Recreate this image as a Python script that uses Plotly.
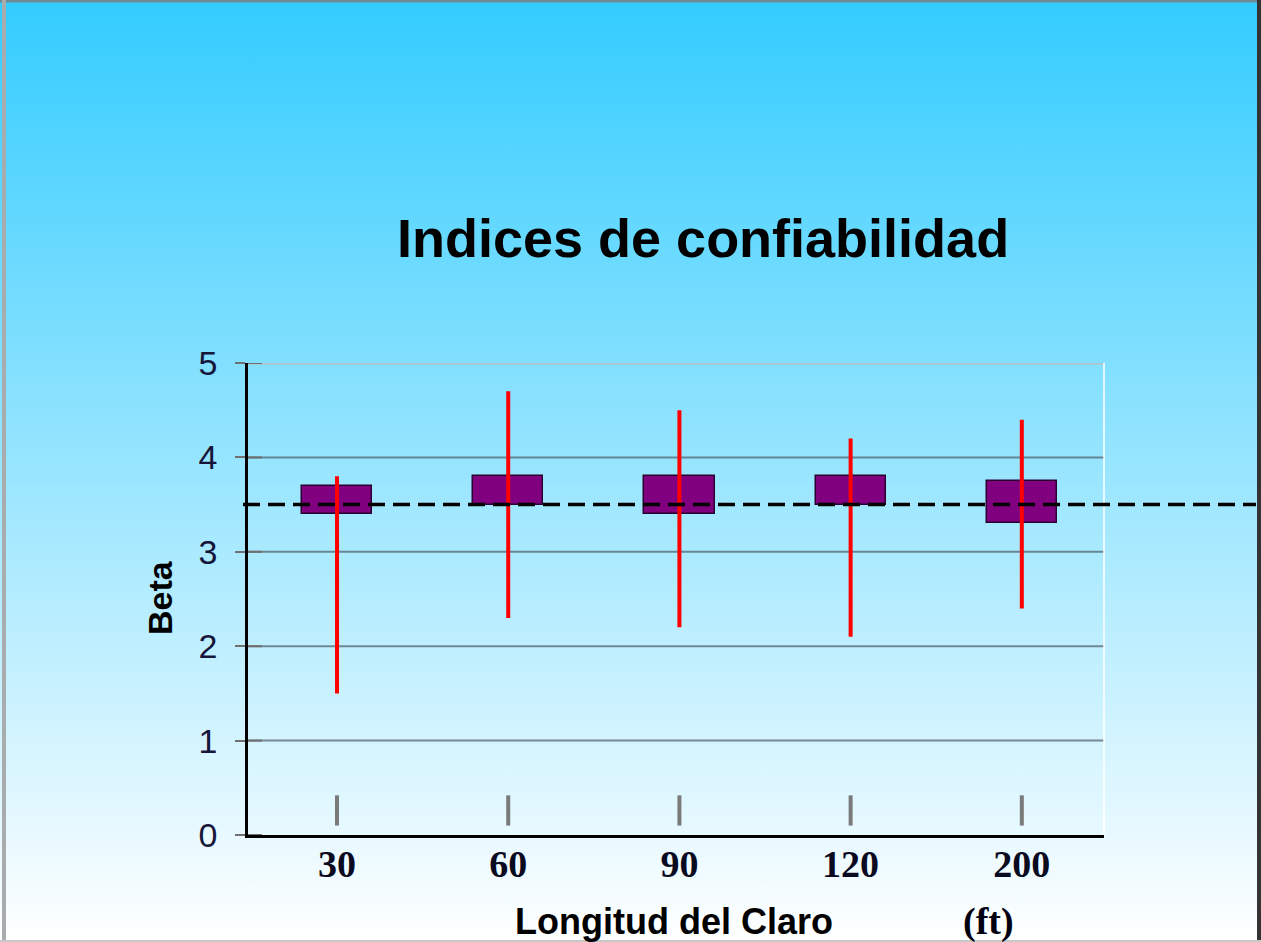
import base64
import plotly.graph_objects as go

# Reliability index (beta) by span length
categories = ["30", "60", "90", "120", "200"]
beta_min = [1.5, 2.3, 2.2, 2.1, 2.4]
beta_max = [3.8, 4.7, 4.5, 4.2, 4.4]
box_low = [3.4, 3.5, 3.4, 3.5, 3.3]
box_high = [3.7, 3.8, 3.8, 3.8, 3.75]
beta_target = 3.5
y_ticks = [0, 1, 2, 3, 4, 5]

W, H = 1261, 942
L, R, T, B = 248, 157, 363, 107
PW, PH = W - L - R, H - T - B


def px(xp):
    return (xp - L) / PW


def py(yp):
    return (H - B - yp) / PH


fig = go.Figure()

# whiskers (min-max range)
wx, wy = [], []
for c, lo, hi in zip(categories, beta_min, beta_max):
    wx += [c, c, None]
    wy += [lo, hi, None]
fig.add_trace(go.Scatter(x=wx, y=wy, mode="lines",
                         line=dict(color="#FF0000", width=4),
                         hoverinfo="skip", showlegend=False))

# boxes
fig.add_trace(go.Bar(x=categories,
                     y=[h - l for l, h in zip(box_low, box_high)],
                     base=box_low, width=0.41,
                     marker=dict(color="#800080",
                                 line=dict(color="#2a0030", width=1.5)),
                     showlegend=False))

# small category markers above the axis
tx, ty = [], []
for c in categories:
    tx += [c, c, None]
    ty += [0.1, 0.42, None]
fig.add_trace(go.Scatter(x=tx, y=ty, mode="lines",
                         line=dict(color="#7a7a7a", width=4),
                         hoverinfo="skip", showlegend=False))

shapes = []
# horizontal gridlines
for v in y_ticks[1:]:
    top = v == y_ticks[-1]
    shapes.append(dict(type="line", xref="paper", yref="y", x0=0, x1=1,
                       y0=v, y1=v, layer="below",
                       line=dict(color="#B8BEC4" if top
                                 else "rgba(70,80,90,0.65)",
                                 width=3 if top else 2)))
# inner part of the y ticks
for v in y_ticks:
    shapes.append(dict(type="line", xref="paper", yref="y", x0=0,
                       x1=px(262), y0=v, y1=v,
                       line=dict(color="#707070", width=2)))
# right edge of plot area
shapes.append(dict(type="line", xref="paper", yref="paper", x0=1, x1=1,
                   y0=0, y1=1, line=dict(color="rgba(255,255,255,0.75)",
                                         width=2)))
# target beta line
shapes.append(dict(type="line", xref="paper", yref="y", x0=px(243),
                   x1=px(1256), y0=beta_target, y1=beta_target,
                   line=dict(color="#000000", width=3.5, dash="17px,8px")))
# slide frame
shapes += [
    dict(type="line", xref="paper", yref="paper", x0=px(0), x1=px(W),
         y0=py(1), y1=py(1), line=dict(color="#6F8A94", width=3)),
    dict(type="line", xref="paper", yref="paper", x0=px(4), x1=px(4),
         y0=py(0), y1=py(H), line=dict(color="#A8ACAE", width=4)),
    dict(type="line", xref="paper", yref="paper", x0=px(1259), x1=px(1259),
         y0=py(0), y1=py(H), line=dict(color="#333333", width=4)),
    dict(type="line", xref="paper", yref="paper", x0=px(0), x1=px(W),
         y0=py(941), y1=py(941), line=dict(color="#C8C8C8", width=2)),
]

svg = ('<svg xmlns="http://www.w3.org/2000/svg" width="1261" height="942">'
       '<defs><linearGradient id="g" x1="0" y1="0" x2="0" y2="1">'
       '<stop offset="0" stop-color="#33CCFF"/>'
       '<stop offset="1" stop-color="#FFFFFF"/>'
       '</linearGradient></defs>'
       '<rect width="1261" height="942" fill="url(#g)"/></svg>')
bg_src = "data:image/svg+xml;base64," + base64.b64encode(svg.encode()).decode()

annotations = [
    dict(text="<b>Indices de confiabilidad</b>", xref="paper", yref="paper",
         x=px(703), y=py(238), showarrow=False, xanchor="center",
         yanchor="middle",
         font=dict(family="Liberation Sans, Arial", size=54, color="#000000")),
    dict(text="<b>Beta</b>", xref="paper", yref="paper", x=px(160),
         y=py(598), showarrow=False, textangle=-90, xanchor="center",
         yanchor="middle",
         font=dict(family="Liberation Sans, Arial", size=34, color="#000000")),
    dict(text="<b>Longitud del Claro</b>", xref="paper", yref="paper",
         x=px(674), y=py(921), showarrow=False, xanchor="center",
         yanchor="middle",
         font=dict(family="Liberation Sans, Arial", size=36, color="#000000")),
    dict(text="<b>(ft)</b>", xref="paper", yref="paper", x=px(988),
         y=py(921), showarrow=False, xanchor="center", yanchor="middle",
         font=dict(family="Liberation Serif, Times New Roman", size=38,
                   color="#000010")),
]

fig.update_layout(
    width=W, height=H,
    margin=dict(l=L, r=R, t=T, b=B, pad=0),
    paper_bgcolor="#FFFFFF",
    plot_bgcolor="rgba(0,0,0,0)",
    images=[dict(source=bg_src, xref="paper", yref="paper",
                 x=px(0), y=py(0), sizex=W / PW, sizey=H / PH,
                 xanchor="left", yanchor="top", sizing="stretch",
                 layer="below")],
    shapes=shapes,
    annotations=annotations,
    bargap=0,
    xaxis=dict(type="category", range=[-0.52, 4.48], showgrid=False,
               showline=True, linecolor="#000000", linewidth=2.5,
               ticks="", ticklabelstandoff=-6,
               tickfont=dict(family="Liberation Serif, Times New Roman",
                             size=38, color="#0A0A20", weight="bold"),
               zeroline=False, fixedrange=True),
    yaxis=dict(range=[0, 5], tickvals=y_ticks, showgrid=False,
               showline=True, linecolor="#000000", linewidth=2.5,
               ticks="outside", ticklen=10, tickcolor="#707070",
               tickwidth=2, ticklabelstandoff=11,
               tickfont=dict(family="Liberation Sans, Arial", size=34,
                             color="#16163A"),
               zeroline=False, fixedrange=True),
)

fig.write_html("out.html")
